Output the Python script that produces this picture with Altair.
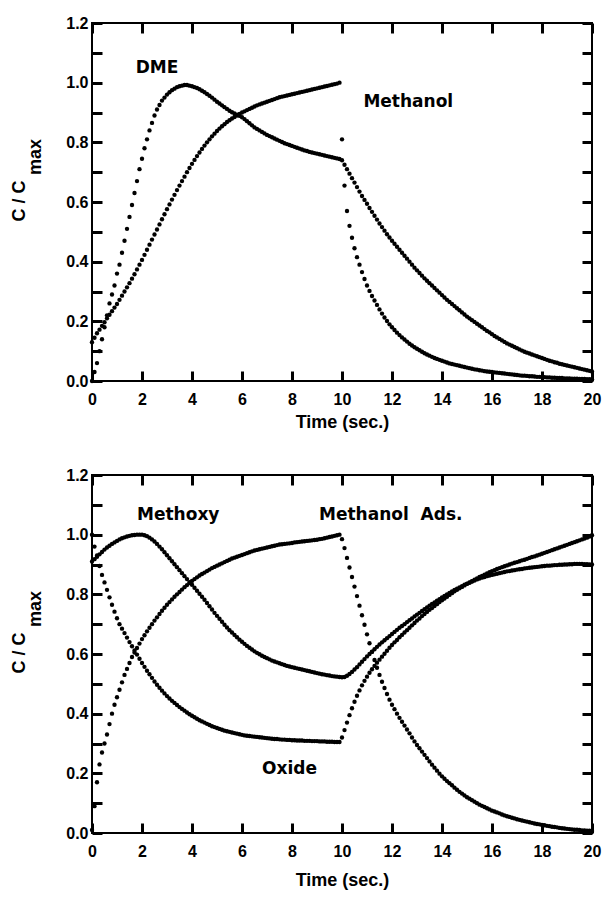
import altair as alt
import pandas as pd

# sampling grid (s) shared by all series, step 0.1 s
times = [round(i * 0.1, 1) for i in range(201)]

# ---- top panel ----
dme = [
    0.00, 0.03, 0.06, 0.10, 0.14, 0.18, 0.22, 0.26, 0.29, 0.32,
    0.36, 0.39, 0.43, 0.47, 0.51, 0.55, 0.59, 0.63, 0.67, 0.71,
    0.745, 0.78, 0.81, 0.84, 0.865, 0.89, 0.91, 0.925, 0.94, 0.95,
    0.96, 0.968, 0.975, 0.98, 0.985, 0.988, 0.99, 0.992, 0.992, 0.99,
    0.988, 0.985, 0.982, 0.978, 0.973, 0.968, 0.962, 0.956, 0.95, 0.943,
    0.936, 0.93, 0.924, 0.918, 0.912, 0.906, 0.901, 0.897, 0.893, 0.889,
    0.884, 0.878, 0.871, 0.864, 0.857, 0.85, 0.845, 0.84, 0.835, 0.83,
    0.825, 0.821, 0.817, 0.813, 0.809, 0.805, 0.801, 0.797, 0.794, 0.791,
    0.788, 0.785, 0.782, 0.779, 0.776, 0.773, 0.771, 0.768, 0.766, 0.764,
    0.762, 0.76, 0.758, 0.756, 0.754, 0.752, 0.75, 0.748, 0.746, 0.744,
    0.74, 0.725, 0.71, 0.695, 0.68, 0.665, 0.65, 0.635, 0.62, 0.607,
    0.594, 0.58, 0.567, 0.554, 0.541, 0.528, 0.516, 0.504, 0.492, 0.481,
    0.47, 0.46, 0.45, 0.44, 0.43, 0.42, 0.41, 0.40, 0.39, 0.38,
    0.371, 0.362, 0.353, 0.344, 0.336, 0.328, 0.32, 0.312, 0.304, 0.296,
    0.288, 0.28, 0.272, 0.265, 0.258, 0.251, 0.244, 0.237, 0.23, 0.223,
    0.216, 0.21, 0.204, 0.198, 0.192, 0.186, 0.18, 0.174, 0.168, 0.163,
    0.157, 0.151, 0.146, 0.141, 0.136, 0.131, 0.126, 0.122, 0.118, 0.114,
    0.11, 0.106, 0.102, 0.098, 0.095, 0.092, 0.089, 0.086, 0.083, 0.08,
    0.077, 0.074, 0.071, 0.068, 0.066, 0.063, 0.061, 0.058, 0.056, 0.054,
    0.052, 0.05, 0.048, 0.046, 0.044, 0.042, 0.04, 0.038, 0.036, 0.034,
    0.032,
]
methanol = [
    0.13, 0.145, 0.16, 0.172, 0.185, 0.197, 0.21, 0.222, 0.234, 0.246,
    0.258, 0.272, 0.286, 0.30, 0.314, 0.328, 0.343, 0.358, 0.374, 0.39,
    0.406, 0.423, 0.44, 0.457, 0.474, 0.491, 0.508, 0.525, 0.542, 0.559,
    0.576, 0.592, 0.608, 0.624, 0.64, 0.655, 0.67, 0.685, 0.70, 0.714,
    0.728, 0.741, 0.754, 0.766, 0.778, 0.789, 0.80, 0.81, 0.82, 0.829,
    0.838, 0.846, 0.854, 0.861, 0.868, 0.874, 0.88, 0.885, 0.89, 0.895,
    0.90, 0.904, 0.908, 0.912, 0.916, 0.92, 0.924, 0.927, 0.93, 0.933,
    0.936, 0.939, 0.942, 0.945, 0.948, 0.951, 0.953, 0.955, 0.957, 0.959,
    0.961, 0.963, 0.965, 0.967, 0.969, 0.971, 0.973, 0.975, 0.977, 0.979,
    0.981, 0.983, 0.985, 0.987, 0.989, 0.991, 0.993, 0.995, 0.997, 1.0,
    0.81, 0.655, 0.57, 0.52, 0.48, 0.445, 0.415, 0.39, 0.365, 0.342,
    0.32, 0.302, 0.285, 0.27, 0.255, 0.24, 0.226, 0.213, 0.201, 0.19,
    0.18, 0.171, 0.162, 0.154, 0.146, 0.139, 0.132, 0.125, 0.119, 0.113,
    0.108, 0.103, 0.098, 0.093, 0.089, 0.085, 0.081, 0.077, 0.074, 0.071,
    0.068, 0.065, 0.062, 0.059, 0.057, 0.055, 0.053, 0.051, 0.049, 0.047,
    0.045, 0.043, 0.041, 0.039, 0.038, 0.036, 0.035, 0.033, 0.032, 0.031,
    0.03, 0.029, 0.028, 0.027, 0.026, 0.025, 0.024, 0.023, 0.022, 0.021,
    0.02, 0.019, 0.018, 0.018, 0.017, 0.016, 0.016, 0.015, 0.014, 0.014,
    0.013, 0.013, 0.012, 0.012, 0.011, 0.011, 0.01, 0.01, 0.01, 0.009,
    0.009, 0.009, 0.008, 0.008, 0.008, 0.007, 0.007, 0.007, 0.006, 0.006,
    0.006,
]

# ---- bottom panel ----
methoxy = [
    0.91, 0.918, 0.926, 0.934, 0.942, 0.95, 0.957, 0.963, 0.969, 0.974,
    0.979, 0.984, 0.988, 0.991, 0.994, 0.996, 0.998, 0.999, 1.0, 1.0,
    1.0, 0.998, 0.995, 0.99, 0.984, 0.977, 0.969, 0.96, 0.951, 0.941,
    0.931, 0.921, 0.911, 0.901, 0.891, 0.881, 0.871, 0.861, 0.851, 0.841,
    0.832, 0.822, 0.812, 0.802, 0.792, 0.782, 0.771, 0.76, 0.749, 0.738,
    0.728, 0.718, 0.708, 0.698, 0.689, 0.68, 0.672, 0.664, 0.656, 0.648,
    0.641, 0.634, 0.627, 0.621, 0.615, 0.609, 0.604, 0.599, 0.594, 0.59,
    0.586, 0.582, 0.578, 0.575, 0.572, 0.569, 0.566, 0.563, 0.56, 0.558,
    0.556, 0.554, 0.552, 0.55, 0.548, 0.546, 0.544, 0.542, 0.54, 0.538,
    0.536, 0.534, 0.532, 0.531, 0.529, 0.528, 0.526, 0.525, 0.524, 0.523,
    0.522, 0.523, 0.527, 0.533, 0.54, 0.548, 0.556, 0.565, 0.574, 0.583,
    0.592, 0.60, 0.608, 0.616, 0.624, 0.632, 0.639, 0.646, 0.653, 0.66,
    0.667, 0.674, 0.681, 0.688, 0.694, 0.70, 0.707, 0.713, 0.719, 0.726,
    0.732, 0.738, 0.744, 0.75, 0.756, 0.762, 0.768, 0.773, 0.779, 0.784,
    0.79, 0.795, 0.80, 0.805, 0.81, 0.815, 0.819, 0.823, 0.827, 0.832,
    0.836, 0.839, 0.843, 0.846, 0.85, 0.853, 0.856, 0.858, 0.861, 0.863,
    0.865, 0.867, 0.869, 0.871, 0.873, 0.875, 0.877, 0.878, 0.88, 0.881,
    0.883, 0.884, 0.885, 0.887, 0.888, 0.889, 0.89, 0.891, 0.892, 0.893,
    0.894, 0.895, 0.896, 0.896, 0.897, 0.898, 0.898, 0.899, 0.899, 0.90,
    0.90, 0.901, 0.901, 0.902, 0.902, 0.902, 0.902, 0.901, 0.901, 0.90,
    0.90,
]
oxide = [
    1.0, 0.96, 0.93, 0.895, 0.865, 0.84, 0.815, 0.79, 0.765, 0.742,
    0.72, 0.70, 0.685, 0.67, 0.655, 0.64, 0.626, 0.612, 0.598, 0.584,
    0.57, 0.557, 0.544, 0.532, 0.52, 0.508, 0.497, 0.487, 0.477, 0.468,
    0.459, 0.451, 0.443, 0.436, 0.429, 0.422, 0.416, 0.41, 0.404, 0.398,
    0.393, 0.388, 0.383, 0.378, 0.374, 0.37, 0.366, 0.362, 0.358, 0.355,
    0.352, 0.349, 0.346, 0.343, 0.341, 0.339, 0.337, 0.335, 0.333, 0.331,
    0.329, 0.327, 0.326, 0.325, 0.324, 0.323, 0.322, 0.321, 0.32, 0.319,
    0.318, 0.317, 0.316, 0.315, 0.315, 0.314, 0.313, 0.313, 0.312, 0.312,
    0.311, 0.311, 0.31, 0.31, 0.31, 0.309, 0.309, 0.309, 0.308, 0.308,
    0.308, 0.307, 0.307, 0.307, 0.306, 0.306, 0.306, 0.305, 0.305, 0.305,
    0.32, 0.345, 0.37, 0.395, 0.418, 0.44, 0.46, 0.478, 0.495, 0.51,
    0.524, 0.537, 0.549, 0.56, 0.571, 0.581, 0.591, 0.601, 0.611, 0.621,
    0.63, 0.639, 0.647, 0.656, 0.664, 0.672, 0.68, 0.688, 0.696, 0.704,
    0.712, 0.719, 0.727, 0.734, 0.741, 0.748, 0.754, 0.761, 0.767, 0.774,
    0.78, 0.786, 0.792, 0.798, 0.804, 0.81, 0.815, 0.82, 0.825, 0.83,
    0.835, 0.84, 0.844, 0.849, 0.853, 0.858, 0.862, 0.866, 0.87, 0.874,
    0.878, 0.881, 0.885, 0.888, 0.891, 0.894, 0.897, 0.90, 0.903, 0.906,
    0.908, 0.911, 0.914, 0.916, 0.919, 0.922, 0.925, 0.927, 0.93, 0.933,
    0.936, 0.939, 0.942, 0.945, 0.948, 0.951, 0.954, 0.957, 0.96, 0.963,
    0.966, 0.969, 0.972, 0.975, 0.978, 0.981, 0.984, 0.987, 0.99, 0.994,
    0.998,
]
methanol_ads = [
    0.01, 0.09, 0.17, 0.23, 0.27, 0.30, 0.33, 0.365, 0.40, 0.43,
    0.455, 0.48, 0.505, 0.53, 0.55, 0.57, 0.59, 0.605, 0.62, 0.635,
    0.65, 0.663, 0.676, 0.688, 0.70, 0.712, 0.723, 0.734, 0.745, 0.755,
    0.765, 0.774, 0.783, 0.792, 0.80, 0.808, 0.816, 0.824, 0.831, 0.838,
    0.845, 0.851, 0.857, 0.863, 0.868, 0.873, 0.878, 0.883, 0.888, 0.892,
    0.896, 0.90, 0.904, 0.908, 0.912, 0.916, 0.92, 0.923, 0.926, 0.929,
    0.932, 0.935, 0.938, 0.941, 0.944, 0.947, 0.949, 0.951, 0.953, 0.955,
    0.957, 0.959, 0.961, 0.963, 0.965, 0.967, 0.968, 0.969, 0.97, 0.971,
    0.972, 0.974, 0.975, 0.976, 0.977, 0.978, 0.979, 0.98, 0.981, 0.982,
    0.983, 0.985, 0.986, 0.988, 0.99, 0.992, 0.994, 0.996, 0.998, 1.0,
    0.985, 0.955, 0.922, 0.89, 0.858, 0.826, 0.794, 0.762, 0.73, 0.698,
    0.666, 0.636, 0.607, 0.58, 0.554, 0.53, 0.507, 0.486, 0.466, 0.447,
    0.43, 0.415, 0.40, 0.386, 0.373, 0.36, 0.347, 0.334, 0.32, 0.307,
    0.295, 0.284, 0.273, 0.262, 0.251, 0.24, 0.229, 0.219, 0.209, 0.199,
    0.19, 0.182, 0.174, 0.167, 0.16, 0.152, 0.145, 0.138, 0.132, 0.126,
    0.12, 0.115, 0.11, 0.105, 0.10, 0.095, 0.091, 0.087, 0.083, 0.079,
    0.075, 0.072, 0.069, 0.066, 0.062, 0.059, 0.056, 0.054, 0.051, 0.049,
    0.046, 0.044, 0.042, 0.04, 0.038, 0.036, 0.034, 0.032, 0.03, 0.029,
    0.027, 0.026, 0.024, 0.023, 0.021, 0.02, 0.019, 0.017, 0.016, 0.015,
    0.014, 0.013, 0.012, 0.011, 0.011, 0.01, 0.009, 0.009, 0.008, 0.008,
    0.007,
]

x_domain = [0, 20]
y_domain = [0.0, 1.2]
x_ticks = [0, 2, 4, 6, 8, 10, 12, 14, 16, 18, 20]
y_ticks = [0.0, 0.1, 0.2, 0.3, 0.4, 0.5, 0.6, 0.7, 0.8, 0.9, 1.0, 1.1, 1.2]

top_labels = ["DME", "Methanol"]
top_label_t = [2.6, 12.65]
top_label_v = [1.05, 0.935]

bot_labels = ["Methoxy", "Methanol\u00a0\u00a0Ads.", "Oxide"]
bot_label_t = [3.45, 11.95, 7.9]
bot_label_v = [1.065, 1.065, 0.215]

W, H = 500, 358
TICK = 10
LABEL_FONT = "Liberation Sans"
ANNOT_FONT = "DejaVu Sans"
EVEN_LABEL = "(round(datum.value * 10) % 2 == 0) ? format(datum.value, '.1f') : ''"


def long_frame(series):
    rows = []
    for name, vals in series.items():
        for t, v in zip(times, vals):
            rows.append({"t": t, "v": v, "series": name})
    return pd.DataFrame(rows)


def tick_axis(orient, values, labels=True, **kw):
    # axis pulled inward by the tick length so ticks point into the frame
    return alt.Axis(
        orient=orient, values=values, offset=-TICK, ticks=True, tickSize=TICK,
        tickWidth=3, tickColor="black", tickOpacity=1, domain=False, grid=False,
        labels=labels, labelFlush=False, zindex=2, **kw)


def panel(series, labels, lt, lv, title_pad):
    xs = alt.Scale(domain=x_domain, nice=False, zero=False)
    ys = alt.Scale(domain=y_domain, nice=False, zero=False)
    df = long_frame(series)
    pts = alt.Chart(df).mark_circle(size=19, opacity=1, color="black").encode(
        x=alt.X("t:Q", scale=xs,
                axis=tick_axis("bottom", x_ticks, format="d", labelPadding=10,
                               title="Time (sec.)", titlePadding=title_pad)),
        y=alt.Y("v:Q", scale=ys,
                axis=tick_axis("left", y_ticks, labelExpr=EVEN_LABEL,
                               labelPadding=4, title=None)),
        detail="series:N",
    )
    ann = alt.Chart(pd.DataFrame({"label": labels, "t": lt, "v": lv})).mark_text(
        font=ANNOT_FONT, fontWeight="bold", fontSize=17, color="black",
        align="center", baseline="middle",
    ).encode(
        x=alt.X("t:Q", scale=xs, axis=tick_axis("top", x_ticks, labels=False, title=None)),
        y=alt.Y("v:Q", scale=ys, axis=tick_axis("right", y_ticks, labels=False, title=None)),
        text="label:N",
    )
    one = pd.DataFrame({"k": [0]})
    ytitle = alt.Chart(one).mark_text(
        text="C / C", angle=270, font=LABEL_FONT, fontSize=18, fontWeight="bold",
        align="center", baseline="alphabetic", color="black",
    ).encode(x=alt.value(-67), y=alt.value(178))
    ysub = alt.Chart(one).mark_text(
        text="max", angle=270, font=LABEL_FONT, fontSize=18, fontWeight="bold",
        align="center", baseline="alphabetic", color="black",
    ).encode(x=alt.value(-51), y=alt.value(134))
    return alt.layer(pts, ann, ytitle, ysub).resolve_axis(
        x="independent", y="independent"
    ).properties(width=W, height=H)


top = panel({"DME": dme, "Methanol": methanol}, top_labels, top_label_t, top_label_v, 6)
bottom = panel({"Methoxy": methoxy, "Oxide": oxide, "Methanol Ads.": methanol_ads},
               bot_labels, bot_label_t, bot_label_v, 12)

chart = alt.vconcat(top, bottom, spacing=34).properties(
    padding={"left": 10, "top": 14, "right": 4, "bottom": 4},
    background="white",
).configure_view(
    stroke="black", strokeWidth=2,
).configure_axis(
    labelFont=LABEL_FONT, labelFontWeight="bold", labelFontSize=16,
    labelColor="black", titleFont=LABEL_FONT, titleFontWeight="bold",
    titleFontSize=18, titleColor="black",
)

chart.save("out.html", embed_options={"renderer": "svg", "actions": False})
